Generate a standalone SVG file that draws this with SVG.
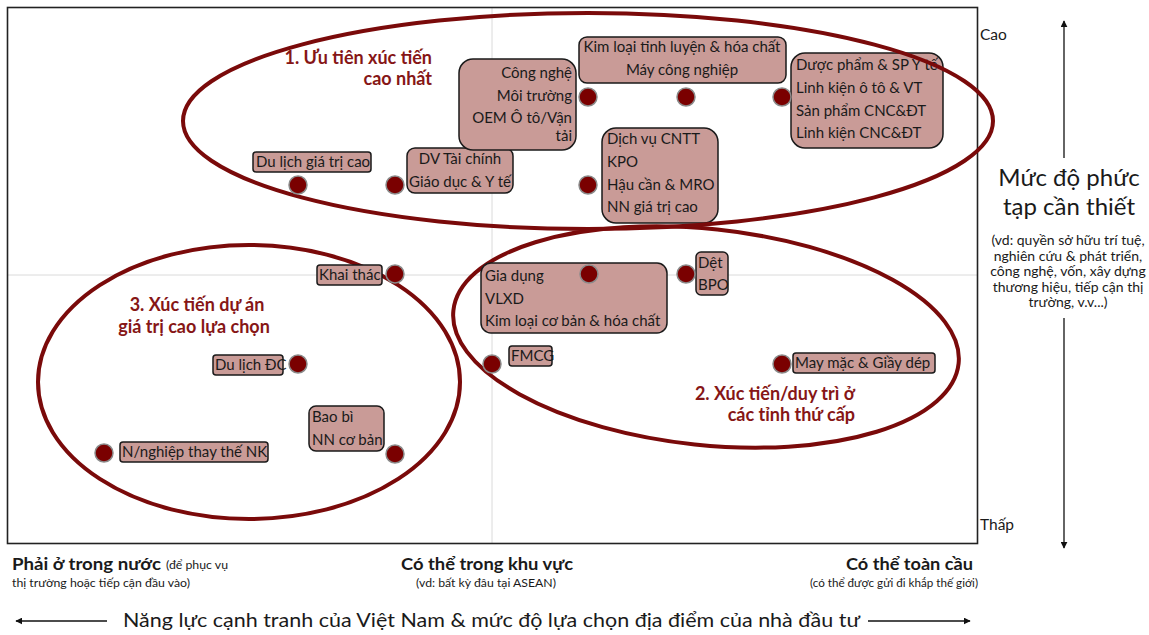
<svg xmlns="http://www.w3.org/2000/svg" width="1149" height="635" viewBox="0 0 1149 635">
  <defs>
    <marker id="tip" viewBox="0 0 10 10" refX="9" refY="5" markerWidth="7" markerHeight="7" markerUnits="userSpaceOnUse" orient="auto">
      <path d="M0,0 L10,5 L0,10 z" fill="#111"/>
    </marker>
    <style>
      text { font-family: Lato, "Liberation Sans", sans-serif; fill: #1a1a1a; }
      .lbl { font-size: 15px; }
      .box { fill: #c99b97; stroke: #1a1a1a; stroke-width: 1.5; }
      .dot { fill: #7a0000; stroke: #8a8a8a; stroke-width: 1.5; }
      .zone { fill: none; stroke: #7a0a0a; stroke-width: 4; }
      .title { font-size: 18px; font-weight: bold; fill: #861616; }
      .grid { stroke: #dadada; stroke-width: 1; }
      .axis { stroke: #111; stroke-width: 1.3; fill: none; }
      .xhead { font-size: 17px; font-weight: bold; }
      .xnote { font-size: 11px; }
    </style>
  </defs>

  <rect width="1149" height="635" fill="#fff"/>

  <!-- plot frame and centre gridlines -->
  <line class="grid" x1="492" y1="8" x2="492" y2="543"/>
  <line class="grid" x1="8" y1="275" x2="977" y2="275"/>
  <rect x="7.5" y="7.5" width="970" height="536" fill="none" stroke="#222" stroke-width="1.6"/>

  <!-- strategy zones (lower two) -->
  <g id="zones-lower">
    <ellipse id="zone-2" class="zone" cx="706" cy="337" rx="254" ry="108" transform="rotate(6 706 337)"/>
    <ellipse id="zone-3" class="zone" cx="249" cy="382" rx="211" ry="137"/>
  </g>

  <!-- sector nodes -->
  <g id="n-dulich-cao">
    <rect class="box" x="253" y="152" width="118" height="20" rx="3"/>
    <text class="lbl" x="256" y="167">Du lịch giá trị cao</text>
  </g>
  <g id="n-taichinh">
    <rect class="box" x="407" y="148" width="106" height="45" rx="8"/>
    <text class="lbl" x="460" y="164" text-anchor="middle">DV Tài chính</text>
    <text class="lbl" x="460" y="187" text-anchor="middle">Giáo dục &amp; Y tế</text>
  </g>
  <g id="n-congnghe">
    <rect class="box" x="459" y="59" width="117" height="91" rx="14"/>
    <text class="lbl" x="572" y="78" text-anchor="end">Công nghệ</text>
    <text class="lbl" x="572" y="101" text-anchor="end">Môi trường</text>
    <text class="lbl" x="572" y="123" text-anchor="end">OEM Ô tô/Vận</text>
    <text class="lbl" x="572" y="141" text-anchor="end">tải</text>
  </g>
  <g id="n-kimloai-tl">
    <rect class="box" x="579" y="37" width="207" height="46" rx="8"/>
    <text class="lbl" x="682" y="52" text-anchor="middle">Kim loại tinh luyện &amp; hóa chất</text>
    <text class="lbl" x="682" y="75" text-anchor="middle">Máy công nghiệp</text>
  </g>
  <g id="n-duocpham">
    <rect class="box" x="791" y="53" width="152" height="95" rx="14"/>
    <text class="lbl" x="796" y="70">Dược phẩm &amp; SP Y tế</text>
    <text class="lbl" x="796" y="93">Linh kiện ô tô &amp; VT</text>
    <text class="lbl" x="796" y="116">Sản phẩm CNC&amp;ĐT</text>
    <text class="lbl" x="796" y="138">Linh kiện CNC&amp;ĐT</text>
  </g>
  <g id="n-cntt">
    <rect class="box" x="602" y="128" width="116" height="95" rx="14"/>
    <text class="lbl" x="607" y="144">Dịch vụ CNTT</text>
    <text class="lbl" x="607" y="167">KPO</text>
    <text class="lbl" x="607" y="190">Hậu cần &amp; MRO</text>
    <text class="lbl" x="607" y="212">NN giá trị cao</text>
  </g>
  <g id="n-khaithac">
    <rect class="box" x="317" y="265" width="65" height="20" rx="3"/>
    <text class="lbl" x="319" y="280">Khai thác</text>
  </g>
  <g id="n-dulich-dc">
    <rect class="box" x="213" y="355" width="70" height="20" rx="3"/>
    <text class="lbl" x="215" y="370">Du lịch ĐC</text>
  </g>
  <g id="n-baobi">
    <rect class="box" x="309" y="406" width="75" height="45" rx="7"/>
    <text class="lbl" x="312" y="422">Bao bì</text>
    <text class="lbl" x="312" y="445">NN cơ bản</text>
  </g>
  <g id="n-thaythe-nk">
    <rect class="box" x="120" y="442" width="148" height="20" rx="3"/>
    <text class="lbl" x="122" y="457">N/nghiệp thay thế NK</text>
  </g>
  <g id="n-giadung">
    <rect class="box" x="481" y="263" width="186" height="70" rx="10"/>
    <text class="lbl" x="485" y="281">Gia dụng</text>
    <text class="lbl" x="485" y="304">VLXD</text>
    <text class="lbl" x="485" y="326">Kim loại cơ bản &amp; hóa chất</text>
  </g>
  <g id="n-det">
    <rect class="box" x="696" y="252" width="32" height="43" rx="5"/>
    <text class="lbl" x="698" y="268">Dệt</text>
    <text class="lbl" x="698" y="290">BPO</text>
  </g>
  <g id="n-fmcg">
    <rect class="box" x="509" y="346" width="43" height="20" rx="3"/>
    <text class="lbl" x="511" y="361">FMCG</text>
  </g>
  <g id="n-maymac">
    <rect class="box" x="793" y="353" width="142" height="20" rx="3"/>
    <text class="lbl" x="795" y="368">May mặc &amp; Giầy dép</text>
  </g>

  <!-- top priority zone, drawn above its boxes -->
  <g id="zone-top">
    <ellipse id="zone-1" class="zone" cx="588" cy="121" rx="405" ry="108"/>
  </g>

  <!-- sector position markers -->
  <g id="markers">
    <circle class="dot" cx="298" cy="185" r="9"/>
    <circle class="dot" cx="395" cy="185" r="9"/>
    <circle class="dot" cx="588" cy="97" r="9"/>
    <circle class="dot" cx="686" cy="97" r="9"/>
    <circle class="dot" cx="782" cy="97" r="9"/>
    <circle class="dot" cx="588" cy="185" r="9"/>
    <circle class="dot" cx="395" cy="274" r="9"/>
    <circle class="dot" cx="589" cy="274" r="9"/>
    <circle class="dot" cx="686" cy="274" r="9"/>
    <circle class="dot" cx="298" cy="364" r="9"/>
    <circle class="dot" cx="492" cy="364" r="9"/>
    <circle class="dot" cx="782" cy="364" r="9"/>
    <circle class="dot" cx="104" cy="453" r="9"/>
    <circle class="dot" cx="395" cy="454" r="9"/>
  </g>

  <!-- zone titles -->
  <g id="zone-titles">
    <text class="title" x="432" y="64" text-anchor="end">1. Ưu tiên xúc tiến</text>
    <text class="title" x="432" y="85" text-anchor="end">cao nhất</text>
    <text class="title" x="855" y="400" text-anchor="end">2. Xúc tiến/duy trì ở</text>
    <text class="title" x="855" y="421" text-anchor="end">các tỉnh thứ cấp</text>
    <text class="title" x="197" y="311" text-anchor="middle">3. Xúc tiến dự án</text>
    <text class="title" x="194" y="333" text-anchor="middle">giá trị cao lựa chọn</text>
  </g>

  <!-- vertical axis: required sophistication -->
  <g id="y-axis">
    <line class="axis" x1="1064" y1="158" x2="1064" y2="21" marker-end="url(#tip)"/>
    <line class="axis" x1="1064" y1="318" x2="1064" y2="548" marker-end="url(#tip)"/>
    <text x="980" y="40" font-size="15.5">Cao</text>
    <text x="980" y="530" font-size="15.5">Thấp</text>
    <text x="1069" y="186" font-size="24" text-anchor="middle">Mức độ phức</text>
    <text x="1069" y="215" font-size="24" text-anchor="middle">tạp cần thiết</text>
    <g font-size="14" text-anchor="middle">
      <text x="1068" y="245">(vd: quyền sở hữu trí tuệ,</text>
      <text x="1068" y="261">nghiên cứu &amp; phát triển,</text>
      <text x="1068" y="276">công nghệ, vốn, xây dựng</text>
      <text x="1068" y="292">thương hiệu, tiếp cận thị</text>
      <text x="1068" y="307">trường, v.v...)</text>
    </g>
  </g>

  <!-- horizontal axis: location choice -->
  <g id="x-axis">
    <text class="xhead" x="12" y="570" textLength="149" lengthAdjust="spacingAndGlyphs">Phải ở trong nước</text>
    <text class="xnote" x="166" y="569" textLength="62" lengthAdjust="spacingAndGlyphs">(để phục vụ</text>
    <text class="xnote" x="12" y="587" textLength="178" lengthAdjust="spacingAndGlyphs">thị trường hoặc tiếp cận đầu vào)</text>
    <text class="xhead" x="401" y="570" textLength="172" lengthAdjust="spacingAndGlyphs">Có thể trong khu vực</text>
    <text class="xnote" x="416" y="587" textLength="140" lengthAdjust="spacingAndGlyphs">(vd: bất kỳ đâu tại ASEAN)</text>
    <text class="xhead" x="846" y="570" textLength="127" lengthAdjust="spacingAndGlyphs">Có thể toàn cầu</text>
    <text class="xnote" x="810" y="587" textLength="168" lengthAdjust="spacingAndGlyphs">(có thể được gửi đi khắp thế giới)</text>
    <line class="axis" x1="107" y1="621" x2="16" y2="621" marker-end="url(#tip)"/>
    <line class="axis" x1="868" y1="621" x2="970" y2="621" marker-end="url(#tip)"/>
    <text x="123" y="627" font-size="20" textLength="737" lengthAdjust="spacingAndGlyphs">Năng lực cạnh tranh của Việt Nam &amp; mức độ lựa chọn địa điểm của nhà đầu tư</text>
  </g>
</svg>
